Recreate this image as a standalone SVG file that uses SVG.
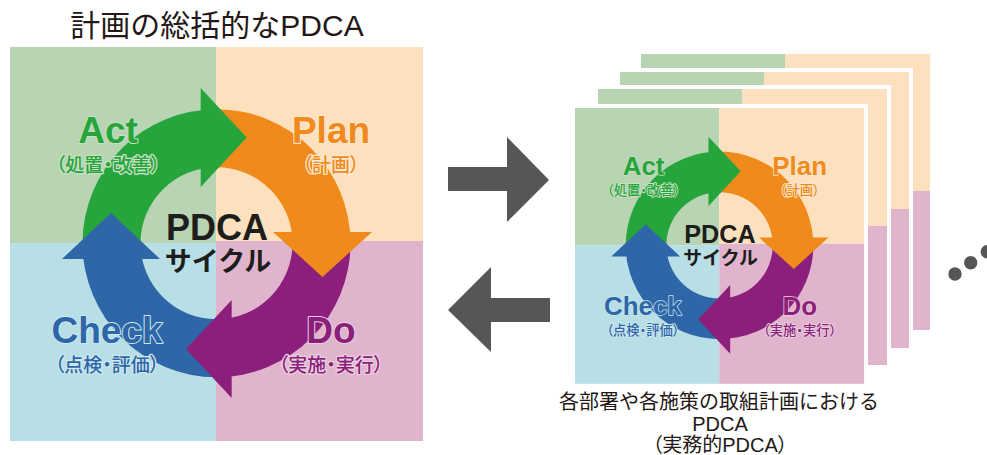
<svg xmlns="http://www.w3.org/2000/svg" width="987" height="455" viewBox="0 0 987 455">
<style>
.qg{fill:#b8d4b2}.qo{fill:#fde1bf}.qb{fill:#b8dee6}.qp{fill:#e0b4cd}
.ag{fill:#25a53b}.ao{fill:#ef8a1b}.ap{fill:#8b1f7b}.ab{fill:#2e66a8}
.tg{fill:#25a53b;stroke:#c9e0c4}.to{fill:#ef8a1b;stroke:#fde8cf}.tp{fill:#8b1f7b;stroke:#ead0df}.tb{fill:#2e66a8;stroke:#cde8ee}
.edge{fill:#ffffff}
.big{font-family:"Liberation Sans","Noto Sans CJK JP",sans-serif;font-weight:bold;font-size:37px;text-anchor:middle;stroke-width:2px;stroke-linejoin:round;paint-order:stroke fill}
.sub{font-family:"Noto Sans CJK JP",sans-serif;font-weight:500;font-size:19px;text-anchor:middle;font-feature-settings:"palt";stroke-width:2.6px;stroke-linejoin:round;paint-order:stroke fill}
.ctr{font-family:"Liberation Sans","Noto Sans CJK JP",sans-serif;font-weight:bold;fill:#1d1d1b;text-anchor:middle}
.cap{font-family:"Liberation Sans","Noto Sans CJK JP",sans-serif;fill:#231815;text-anchor:middle}
.conn{fill:#555756}
</style>
<rect width="987" height="455" fill="#ffffff"/>

<g id="title">
<text class="cap" x="217" y="36" font-size="30">計画の総括的なPDCA</text>
</g>

<g id="overall-pdca">
<rect class="qg" x="10" y="47" width="206" height="196"/>
<rect class="qo" x="216" y="47" width="207" height="194"/>
<rect class="qb" x="10" y="243" width="206" height="198"/>
<rect class="qp" x="216" y="241" width="207" height="200"/>
<path class="ag" d="M82.5 243.2 A134 134 0 0 1 216.5 109.2 L216.5 167.2 A76 76 0 0 0 140.5 243.2 Z"/>
<path class="ao" d="M216.5 109.2 A134 134 0 0 1 350.5 243.2 L292.5 243.2 A76 76 0 0 0 216.5 167.2 Z"/>
<path class="ap" d="M350.5 243.2 A134 134 0 0 1 216.5 377.2 L216.5 319.2 A76 76 0 0 0 292.5 243.2 Z"/>
<path class="ab" d="M216.5 377.2 A134 134 0 0 1 82.5 243.2 L140.5 243.2 A76 76 0 0 0 216.5 319.2 Z"/>
<polygon class="ag" points="200.7,88 246.7,137.5 200.7,187"/>
<polygon class="ao" points="273,232 372,232 322.5,277"/>
<polygon class="ap" points="231.7,300 186,349 231.7,398"/>
<polygon class="ab" points="62,259 111,213 160,259"/>
<g id="act"><text class="big tg" x="108" y="143">Act</text><text class="sub tg" x="108" y="172">（処置・改善）</text></g>
<g id="plan"><text class="big to" x="331" y="143">Plan</text><text class="sub to" x="331" y="172">（計画）</text></g>
<g id="check"><text class="big tb" x="107" y="343">Check</text><text class="sub tb" x="107" y="372">（点検・評価）</text></g>
<g id="do"><text class="big tp" x="331" y="343">Do</text><text class="sub tp" x="331" y="372">（実施・実行）</text></g>
<g id="center"><text class="ctr" x="217" y="240" font-size="36">PDCA</text><text class="ctr" x="218" y="271" font-size="27">サイクル</text></g>
</g>

<g id="connectors">
<polygon class="conn" points="448,167 507,167 507,137 549,180 507,222 507,191 448,191"/>
<polygon class="conn" points="550,298 491,298 491,267 448,310 491,352 491,322 550,322"/>
</g>

<g id="practical-stack">
<g id="sheet-4">
<rect class="qg" x="641" y="54" width="144" height="137"/>
<rect class="qo" x="785" y="54" width="145" height="137"/>
<rect class="qb" x="641" y="191" width="144" height="139"/>
<rect class="qp" x="785" y="191" width="145" height="139"/>
</g>
<g id="sheet-3">
<rect class="edge" x="616" y="68" width="297" height="284"/>
<rect class="qg" x="620" y="72" width="144" height="137"/>
<rect class="qo" x="764" y="72" width="145" height="137"/>
<rect class="qb" x="620" y="209" width="144" height="139"/>
<rect class="qp" x="764" y="209" width="145" height="139"/>
</g>
<g id="sheet-2">
<rect class="edge" x="594" y="85" width="297" height="284"/>
<rect class="qg" x="598" y="89" width="144" height="137"/>
<rect class="qo" x="742" y="89" width="145" height="137"/>
<rect class="qb" x="598" y="226" width="144" height="139"/>
<rect class="qp" x="742" y="226" width="145" height="139"/>
</g>
<g id="sheet-1">
<rect class="edge" x="571" y="104" width="297" height="284"/>
<g transform="translate(575 108) scale(0.7) translate(-10 -47)">
<rect class="qg" x="10" y="47" width="206" height="196"/>
<rect class="qo" x="216" y="47" width="207" height="194"/>
<rect class="qb" x="10" y="243" width="206" height="198"/>
<rect class="qp" x="216" y="241" width="207" height="200"/>
<path class="ag" d="M82.5 243.2 A134 134 0 0 1 216.5 109.2 L216.5 167.2 A76 76 0 0 0 140.5 243.2 Z"/>
<path class="ao" d="M216.5 109.2 A134 134 0 0 1 350.5 243.2 L292.5 243.2 A76 76 0 0 0 216.5 167.2 Z"/>
<path class="ap" d="M350.5 243.2 A134 134 0 0 1 216.5 377.2 L216.5 319.2 A76 76 0 0 0 292.5 243.2 Z"/>
<path class="ab" d="M216.5 377.2 A134 134 0 0 1 82.5 243.2 L140.5 243.2 A76 76 0 0 0 216.5 319.2 Z"/>
<polygon class="ag" points="200.7,88 246.7,137.5 200.7,187"/>
<polygon class="ao" points="273,232 372,232 322.5,277"/>
<polygon class="ap" points="231.7,300 186,349 231.7,398"/>
<polygon class="ab" points="62,259 111,213 160,259"/>
<g id="act-2"><text class="big tg" x="108" y="143">Act</text><text class="sub tg" x="108" y="172">（処置・改善）</text></g>
<g id="plan-2"><text class="big to" x="331" y="143">Plan</text><text class="sub to" x="331" y="172">（計画）</text></g>
<g id="check-2"><text class="big tb" x="107" y="343">Check</text><text class="sub tb" x="107" y="372">（点検・評価）</text></g>
<g id="do-2"><text class="big tp" x="331" y="343">Do</text><text class="sub tp" x="331" y="372">（実施・実行）</text></g>
<g id="center-2"><text class="ctr" x="217" y="240" font-size="36">PDCA</text><text class="ctr" x="218" y="271" font-size="27">サイクル</text></g>
</g>
</g>
</g>

<g id="more">
<circle class="conn" cx="955" cy="274" r="6.7"/>
<circle class="conn" cx="970.7" cy="262.7" r="6.7"/>
<circle class="conn" cx="987.3" cy="251.7" r="6.7"/>
</g>

<g id="caption">
<text class="cap" x="719" y="409" font-size="20">各部署や各施策の取組計画における</text>
<text class="cap" x="720" y="431" font-size="20">PDCA</text>
<text class="cap" x="720" y="452" font-size="20" style="font-feature-settings:'palt'">（実務的PDCA）</text>
</g>
</svg>
